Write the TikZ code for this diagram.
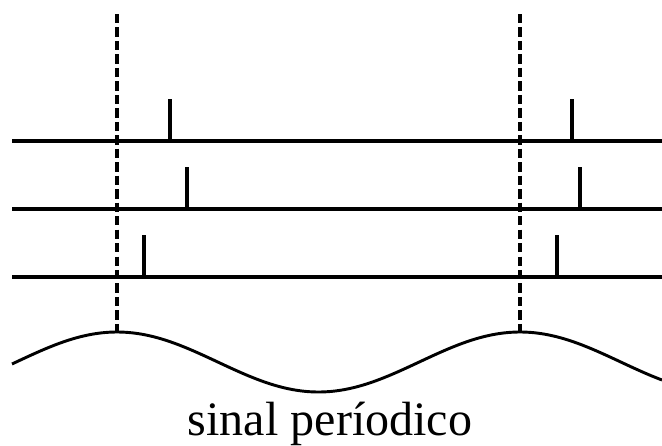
\documentclass[tikz,border=0pt]{standalone}
\usepackage{fontspec}
\setmainfont{Liberation Serif}
\usetikzlibrary{calc}

\begin{document}
\begin{tikzpicture}[x=0.03cm, y=-0.03cm, line width=2.8pt]
    \useasboundingbox (0, 0) rectangle (662, 446);
    \tikzset{
        trace/.style={line width=2.8pt},
        pulse/.style={line width=2.6pt},
        marker/.style={line width=2.8pt, dash pattern=on 8pt off 3.5pt},
    }

    % the three pulse trains
    \foreach \y/\a/\b in {141/170/572, 209/187/580, 277/144/557} {
        \draw[trace] (12, \y) -- (662, \y);
        \draw[pulse] (\a, \y) -- ++(0, -42);
        \draw[pulse] (\b, \y) -- ++(0, -42);
    }

    % the periodic signal
    \draw[trace, line width=2.5pt] plot[domain=12:662, samples=120, smooth]
        (\x, {362 - 30*cos((\x - 117)/403*360)});

    % markers at the peaks
    \draw[marker] (117, 14) -- (117, 331);
    \draw[marker] (520, 14) -- (520, 331);

    \node[font=\fontsize{41}{45}\selectfont, anchor=base] (caption) at (330, 435) {sinal períodico};
\end{tikzpicture}
\end{document}
